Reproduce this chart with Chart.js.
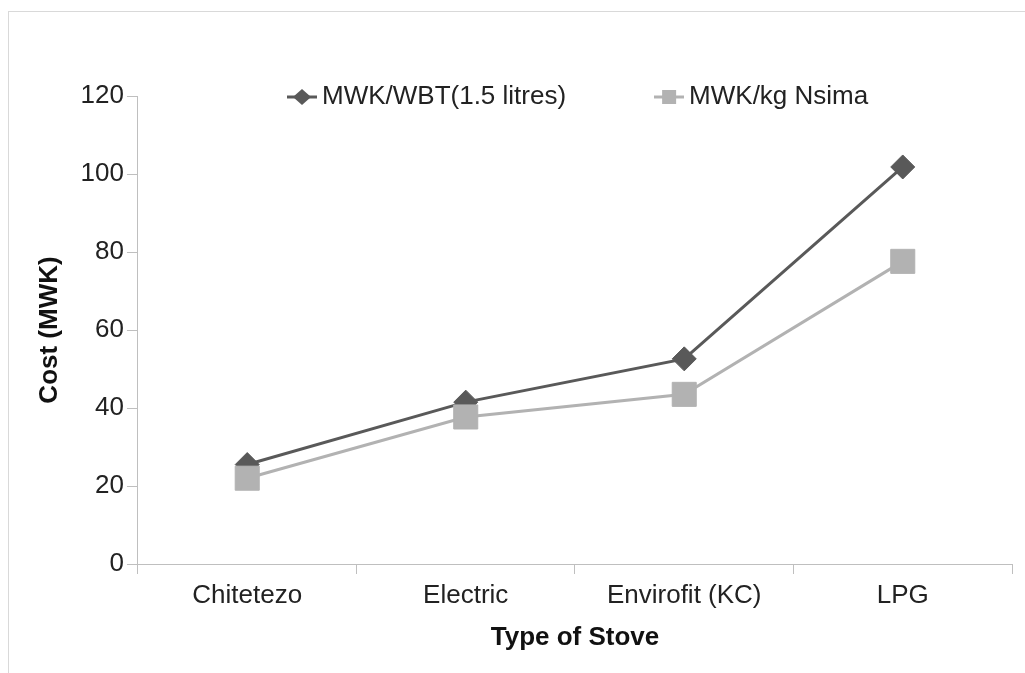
<!DOCTYPE html>
<html>
<head>
<meta charset="utf-8">
<script src="https://cdn.jsdelivr.net/npm/chart.js@4/dist/chart.umd.min.js"></script>
<style>
  html, body { margin: 0; padding: 0; background: #ffffff; }
  #wrap { width: 1025px; height: 673px; position: relative; }
</style>
</head>
<body>
<div id="wrap"><canvas id="stoveChart" width="1025" height="673"></canvas></div>
<script>
// Stove types along the x axis
const categories = ['Chitetezo', 'Electric', 'Envirofit (KC)', 'LPG'];
// Cost of one water boiling test (1.5 litres), MWK
const costPerWbt = [25.5, 41.5, 52.6, 101.8];
// Cost per kg of nsima cooked, MWK
const costPerKgNsima = [22.0, 37.7, 43.5, 77.6];
const seriesNames = ['MWK/WBT(1.5 litres)', 'MWK/kg Nsima'];
// Value axis range
const yMin = 0;
const yMax = 120;
const yStep = 20;

const FONT = '"Liberation Sans", Arial, sans-serif';
const DARK = '#595959';
const LIGHT = '#b2b2b2';
const AXIS = '#bfbfbf';
const TEXT = '#222222';

// Legend position: left edge of first entry and vertical centre of the row
const LEGEND_X = 295;
const LEGEND_Y = 97;
const LEGEND_GAP = 96;

// Legend icons: short line segment with the series marker on it
function legendIcon(kind, color) {
  const c = document.createElement('canvas');
  c.width = 30; c.height = 18;
  const g = c.getContext('2d');
  g.strokeStyle = color; g.lineWidth = 3;
  g.beginPath(); g.moveTo(0, 9); g.lineTo(30, 9); g.stroke();
  g.fillStyle = color;
  g.beginPath();
  if (kind === 'diamond') {
    g.moveTo(6, 9); g.lineTo(15, 1); g.lineTo(24, 9); g.lineTo(15, 17); g.closePath();
  } else {
    g.rect(8, 2, 14, 14);
  }
  g.fill();
  return c;
}
const icons = [legendIcon('diamond', DARK), legendIcon('square', LIGHT)];

// White page with a thin frame around the chart
const framePlugin = {
  id: 'frame',
  beforeDraw(chart) {
    const ctx = chart.ctx;
    ctx.save();
    ctx.fillStyle = '#ffffff';
    ctx.fillRect(0, 0, chart.width, chart.height);
    ctx.strokeStyle = '#d9d9d9';
    ctx.lineWidth = 1;
    ctx.strokeRect(8.5, 11.5, chart.width + 20, chart.height + 20);
    ctx.restore();
  }
};

// Puts the legend row inside the top of the plot area
const legendPlacement = {
  id: 'legendPlacement',
  afterLayout(chart) {
    const l = chart.legend;
    if (!l) return;
    const p = l.options.labels.padding;
    const size = l.options.labels.font.size;
    l.left = LEGEND_X - p;
    l.right = l.left + 1200;
    l.top = LEGEND_Y - p - size / 2;
    l.bottom = l.top + 2 * p + size + 10;
  }
};

new Chart(document.getElementById('stoveChart'), {
  type: 'line',
  data: {
    labels: categories,
    datasets: [
      {
        label: seriesNames[0],
        data: costPerWbt,
        borderColor: DARK,
        backgroundColor: DARK,
        borderWidth: 3,
        pointStyle: 'rectRot',
        pointRadius: 12,
        pointHoverRadius: 12,
        pointBorderWidth: 1,
        pointBackgroundColor: DARK,
        pointBorderColor: DARK,
        tension: 0,
        order: 2
      },
      {
        label: seriesNames[1],
        data: costPerKgNsima,
        borderColor: LIGHT,
        backgroundColor: LIGHT,
        borderWidth: 3,
        pointStyle: 'rect',
        pointRadius: 17,
        pointHoverRadius: 17,
        pointBorderWidth: 1,
        pointBackgroundColor: LIGHT,
        pointBorderColor: LIGHT,
        tension: 0,
        order: 1
      }
    ]
  },
  options: {
    responsive: false,
    devicePixelRatio: 1,
    animation: false,
    layout: { autoPadding: false, padding: { left: 19, right: 13, top: 36, bottom: 10 } },
    plugins: {
      tooltip: { enabled: false },
      legend: {
        position: 'top',
        align: 'start',
        maxHeight: 60,
        labels: {
          usePointStyle: true,
          pointStyleWidth: 14,
          padding: LEGEND_GAP,
          color: TEXT,
          font: { family: FONT, size: 26 },
          generateLabels(chart) {
            return chart.data.datasets.map((ds, i) => ({
              text: ds.label,
              pointStyle: icons[i],
              fillStyle: ds.borderColor,
              strokeStyle: ds.borderColor,
              lineWidth: 0,
              hidden: false,
              fontColor: TEXT,
              datasetIndex: i
            }));
          }
        }
      }
    },
    scales: {
      x: {
        type: 'category',
        offset: true,
        // category labels sit well inside their bands, so no extra right margin
        afterFit(scale) { scale.paddingRight = 0; },
        grid: {
          display: true,
          drawOnChartArea: false,
          drawTicks: true,
          tickLength: 10,
          offset: true,
          color: AXIS,
          lineWidth: 1
        },
        border: { display: true, color: AXIS, width: 1 },
        ticks: {
          color: TEXT,
          font: { family: FONT, size: 26 },
          padding: 6,
          maxRotation: 0,
          autoSkip: false
        },
        title: {
          display: true,
          text: 'Type of Stove',
          color: '#111111',
          font: { family: FONT, size: 26, weight: 'bold' },
          padding: { top: 5.2, bottom: 9.4 }
        }
      },
      y: {
        min: yMin,
        max: yMax,
        grid: {
          display: true,
          drawOnChartArea: false,
          drawTicks: true,
          tickLength: 11,
          color: AXIS,
          lineWidth: 1
        },
        border: { display: true, color: AXIS, width: 1 },
        ticks: {
          stepSize: yStep,
          color: TEXT,
          font: { family: FONT, size: 26 },
          padding: 3
        },
        title: {
          display: true,
          text: 'Cost (MWK)',
          color: '#111111',
          font: { family: FONT, size: 26, weight: 'bold' },
          padding: { top: 15.4, bottom: 12 }
        }
      }
    }
  },
  plugins: [framePlugin, legendPlacement]
});
</script>
</body>
</html>
